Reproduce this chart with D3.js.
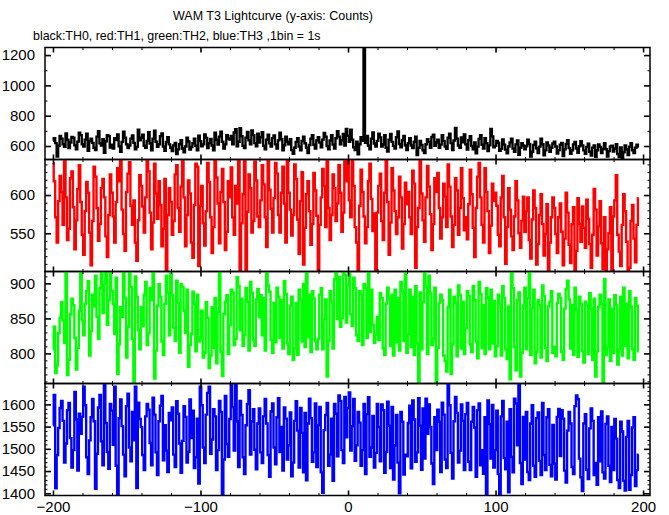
<!DOCTYPE html>
<html><head><meta charset="utf-8">
<script src="https://cdn.jsdelivr.net/npm/d3@7"></script>
<style>
body{margin:0;background:#fff}
svg{display:block}
text{font-family:"Liberation Sans",Arial,Helvetica,sans-serif;fill:#000}
</style>
</head><body>
<svg id="chart" width="669" height="515"></svg>
<script>
// ---------- texts ----------
const titleText = "WAM T3 Lightcurve (y-axis: Counts)";
const subtitleText = "black:TH0, red:TH1, green:TH2, blue:TH3 ,1bin = 1s";

// ---------- time binning (1 bin = 1 s, first bin at -200 s) ----------
const timeStart = -200;
const binSize = 1;

// ---------- series values (counts per 1 s bin) ----------
const th0Counts = [
634,651,619,531,602,667,648,612,595,683,641,587,623,660,655,604,578,629,688,672,
611,597,642,681,569,633,648,621,589,574,662,697,618,603,645,556,631,672,664,590,
608,583,651,639,677,598,561,627,694,655,612,586,603,648,669,621,579,594,707,638,
655,674,602,588,633,691,617,572,649,701,628,595,612,664,683,597,569,626,658,611,
589,566,604,621,547,578,612,639,584,559,597,655,630,576,593,618,649,602,571,668,
632,598,611,677,654,587,619,646,603,571,688,641,609,662,694,628,583,611,672,650,
643,667,612,689,711,598,628,718,664,601,587,655,693,637,612,703,672,619,598,681,
623,658,691,602,579,641,675,618,596,652,669,611,584,637,688,646,571,605,662,629,
612,645,573,548,589,627,651,596,571,634,662,618,589,553,607,649,671,608,584,637,
658,623,591,642,687,661,599,578,636,672,609,584,651,697,662,611,637,679,603,712,
668,627,708,641,592,574,629,545,612,658,634,1250,621,667,602,579,648,689,617,596,
634,681,656,597,612,672,589,563,641,679,627,601,584,658,696,613,592,638,667,605,
574,619,652,603,586,628,661,541,589,634,607,572,553,612,645,627,588,659,674,601,
623,642,588,609,671,634,597,582,655,681,619,574,636,719,648,603,589,657,624,676,
612,577,638,664,601,579,623,552,596,647,672,608,583,651,619,566,604,712,663,591,
601,634,622,568,581,643,609,576,552,597,624,648,583,562,611,637,542,589,618,603,
579,598,641,613,531,562,607,628,585,553,596,649,612,538,571,624,603,562,589,617,
628,597,551,573,608,621,533,579,614,638,586,549,572,611,627,584,556,598,631,604,
571,548,593,616,562,537,589,603,528,572,611,594,553,581,618,579,531,566,597,602,
563,584,612,547,527,591,512,558,603,579,541,596,618,572,553,589,608,594
];
const th1Counts = [
642,618,571,538,592,625,604,561,646,597,541,556,622,631,584,529,567,608,639,591,
548,522,579,617,603,551,508,566,637,624,583,540,562,609,621,597,546,519,574,627,
603,572,538,591,635,618,646,581,549,527,604,628,643,586,561,593,538,514,567,626,
612,585,551,597,646,631,577,529,564,641,602,569,618,587,533,556,621,500,574,609,
591,548,566,627,639,583,552,611,646,597,533,574,619,602,538,518,587,641,637,507,
586,612,563,534,579,642,617,571,524,558,646,623,589,537,604,634,591,528,552,618,
597,636,571,548,612,589,646,500,563,601,646,500,578,627,609,551,566,644,619,572,
558,593,639,614,571,532,646,607,582,551,596,642,628,574,551,603,637,589,538,646,
603,581,547,574,640,621,568,523,592,630,509,557,601,618,579,535,562,629,606,573,
500,561,597,634,612,558,646,583,541,574,627,609,566,589,639,603,552,577,644,618,
646,593,571,646,612,558,538,502,586,633,604,572,537,558,618,641,595,553,576,500,
577,612,628,566,541,603,645,591,522,564,635,606,579,549,571,624,597,530,562,616,
588,604,571,549,632,615,505,558,583,646,602,567,539,597,638,611,575,528,562,622,
604,629,583,543,571,615,598,558,640,611,572,532,561,622,606,548,583,635,596,554,
571,542,588,633,601,557,519,583,624,642,597,561,538,635,604,579,524,560,615,592,
603,586,548,533,597,625,571,510,558,609,581,546,528,572,618,593,550,531,566,598,
552,579,597,541,517,568,606,583,509,536,574,601,562,521,549,588,500,538,571,597,
583,549,524,571,589,552,508,543,603,577,535,511,562,584,500,527,596,562,539,585,
557,531,594,569,536,505,548,608,581,521,559,592,537,503,571,500,529,550,584,500,
572,593,626,548,526,507,561,601,579,539,500,505,566,587,543,512,561,596
];
const th2Counts = [
806,838,772,783,829,851,873,847,815,917,769,791,856,878,869,822,777,808,861,917,
847,826,871,889,903,797,832,884,867,911,852,821,893,917,858,899,917,841,876,917,
889,871,828,908,771,813,866,852,917,879,794,838,917,895,821,757,910,881,833,806,
866,839,884,902,812,829,893,876,917,764,804,868,899,881,817,798,871,911,887,826,
917,883,837,818,904,872,801,899,895,861,829,891,781,812,828,888,871,803,884,817,
822,861,794,801,873,851,779,797,866,808,879,786,859,917,802,768,856,874,883,799,
841,891,887,812,821,909,896,833,878,811,826,893,874,804,902,886,819,811,877,892,
852,883,826,879,804,917,897,888,819,801,872,816,894,881,822,876,807,903,885,814,
799,868,881,791,807,872,798,891,876,817,899,809,917,823,884,802,889,878,818,806,
821,884,893,806,849,877,767,818,889,874,807,906,917,849,909,838,851,917,912,844,
898,917,856,839,908,893,826,818,889,884,812,899,894,822,917,831,891,841,815,827,
852,819,886,879,807,798,871,894,878,811,884,797,891,816,879,804,902,889,818,914,
801,828,891,809,881,798,896,814,757,887,806,873,917,895,799,911,886,812,821,894,
757,808,872,884,876,797,789,774,866,891,771,813,881,872,796,897,883,807,874,799,
836,889,882,813,802,896,876,817,793,902,885,808,869,799,893,879,806,891,814,875,
796,811,884,871,797,896,879,806,792,867,763,917,893,809,776,876,887,767,801,868,
894,806,879,917,798,865,891,786,802,876,869,794,897,882,808,789,867,874,889,801,
809,796,872,885,879,802,791,864,892,904,877,807,869,798,894,862,795,881,871,803,
787,874,869,799,886,863,791,878,767,803,866,884,871,757,906,798,809,877,789,864,
801,883,869,784,806,881,797,894,811,871,793,889,866,806,791,879,868,803
];
const th3Counts = [
1553,1621,1411,1486,1547,1592,1608,1563,1469,1512,1587,1603,1524,1458,1497,1628,1566,1451,1579,1534,
1572,1640,1598,1481,1443,1519,1571,1612,1562,1410,1489,1593,1621,1517,1463,1647,1558,1493,1455,1601,
1586,1509,1640,1462,1395,1569,1611,1551,1487,1438,1596,1624,1503,1472,1583,1519,1640,1412,1604,1567,
1549,1486,1452,1573,1601,1588,1513,1463,1615,1577,1492,1441,1562,1597,1619,1474,1553,1496,1448,1581,
1564,1593,1487,1459,1607,1579,1512,1446,1518,1596,1572,1469,1493,1611,1524,1586,1457,1481,1568,1422,
1640,1598,1503,1468,1577,1626,1640,1489,1521,1589,1573,1452,1497,1608,1583,1395,1476,1619,1511,1482,
1567,1647,1594,1496,1647,1562,1459,1608,1576,1481,1443,1553,1601,1632,1487,1562,1589,1498,1454,1557,
1591,1492,1468,1573,1612,1557,1486,1437,1584,1602,1503,1465,1571,1614,1493,1549,1451,1593,1568,1476,
1508,1582,1438,1469,1563,1607,1541,1458,1592,1536,1447,1581,1429,1557,1613,1569,1471,1492,1602,1459,
1553,1594,1447,1401,1542,1576,1603,1462,1487,1568,1428,1601,1579,1483,1620,1608,1497,1468,1617,1526,
1592,1627,1496,1551,1612,1473,1508,1583,1559,1462,1497,1601,1443,1578,1616,1482,1503,1574,1458,1491,
1601,1549,1472,1600,1587,1446,1493,1606,1552,1457,1594,1431,1508,1576,1469,1400,1583,1561,1442,1487,
1483,1558,1597,1456,1609,1566,1471,1492,1614,1552,1453,1591,1478,1613,1534,1600,1549,1467,1421,1571,
1497,1588,1561,1448,1604,1577,1476,1457,1647,1598,1491,1433,1562,1617,1581,1469,1496,1600,1563,1452,
1578,1603,1471,1452,1561,1594,1548,1437,1587,1602,1463,1497,1444,1571,1395,1609,1556,1478,1599,1458,
1497,1586,1443,1395,1573,1608,1479,1454,1561,1402,1589,1482,1447,1613,1602,1508,1647,1468,1421,1572,
1476,1583,1448,1430,1557,1598,1462,1437,1569,1582,1473,1441,1603,1486,1452,1571,1589,1464,1438,1554,
1467,1431,1572,1590,1484,1587,1568,1451,1424,1541,1583,1557,1459,1443,1596,1620,1612,1478,1436,1405,
1557,1578,1453,1432,1546,1591,1563,1441,1468,1419,1571,1472,1584,1447,1433,1556,1573,1462,1425,1549,
1452,1567,1523,1430,1412,1561,1539,1428,1406,1527,1563,1408,1441,1548,1571,1416,1452,1487
];

// ---------- axis ranges & ticks ----------
const xDomain = [-205.4, 204.7];
const xMajorTicks = [-200, -100, 0, 100, 200];
const xMinorTicks = [-180,-160,-140,-120,-80,-60,-40,-20,20,40,60,80,120,140,160,180];

const th0Domain = [511, 1250];
const th0Major = [600, 800, 1000, 1200];
const th0Minor = [700, 900, 1100];

const th1Domain = [500, 646.5];
const th1Major = [550, 600];
const th1Minor = [510,520,530,540,560,570,580,590,610,620,630,640];

const th2Domain = [757, 917];
const th2Major = [800, 850, 900];
const th2Minor = [760,770,780,790,810,820,830,840,860,870,880,890,910];

const th3Domain = [1395, 1647];
const th3Major = [1400, 1450, 1500, 1550, 1600];
const th3Minor = [1410,1420,1430,1440,1460,1470,1480,1490,1510,1520,1530,1540,1560,1570,1580,1590,1610,1620,1630,1640];

const seriesColors = ["#000000", "#ff0000", "#00ff00", "#0000ff"];
const seriesWidths = [2.4, 2.4, 2.4, 2.4];

// ---------- layout ----------
const plotLeft = 45, plotRight = 650, plotTop = 47.5, panelH = 112;
const W = plotRight - plotLeft;

const svg = d3.select("#chart");
svg.append("rect").attr("width", 669).attr("height", 515).attr("fill", "#fff");

svg.append("text").attr("x", 273).attr("y", 19.5).attr("text-anchor", "middle")
  .style("font-size", "12.5px").text(titleText);
svg.append("text").attr("x", 33).attr("y", 39.5)
  .style("font-size", "12.4px").text(subtitleText);

const x = d3.scaleLinear().domain(xDomain).range([0, W]);

const panels = [
  {values: th0Counts, domain: th0Domain, major: th0Major, minor: th0Minor},
  {values: th1Counts, domain: th1Domain, major: th1Major, minor: th1Minor},
  {values: th2Counts, domain: th2Domain, major: th2Major, minor: th2Minor},
  {values: th3Counts, domain: th3Domain, major: th3Major, minor: th3Minor}
];

const majorLen = 5, minorLen = 2.5;
const labelFont = '"Liberation Sans",Arial,sans-serif';

function stripDomain(g){ g.select(".domain").remove(); }

panels.forEach((p, i) => {
  const top = plotTop + i * panelH;
  const g = svg.append("g").attr("transform", `translate(${plotLeft},${top})`);
  const y = d3.scaleLinear().domain(p.domain).range([panelH, 0]);

  const cid = "clip" + i;
  g.append("clipPath").attr("id", cid).append("rect").attr("width", W).attr("height", panelH);

  const pts = p.values.map((v, k) => ({t: timeStart + k * binSize, v}));
  const line = d3.line().x(d => x(d.t)).y(d => y(d.v)).curve(d3.curveStep);
  g.append("path").datum(pts).attr("clip-path", `url(#${cid})`)
    .attr("fill", "none").attr("stroke", seriesColors[i]).attr("stroke-width", seriesWidths[i])
    .attr("d", line);

  // ticks (inward) on all four sides
  const tickStyle = sel => sel.selectAll("line").attr("stroke", "#000");
  g.append("g").attr("transform", `translate(0,${panelH})`)
    .call(d3.axisBottom(x).tickValues(xMinorTicks).tickSize(-minorLen).tickFormat(""))
    .call(stripDomain).call(tickStyle);
  g.append("g").attr("transform", `translate(0,${panelH})`)
    .call(d3.axisBottom(x).tickValues(xMajorTicks).tickSize(-majorLen).tickFormat(""))
    .call(stripDomain).call(tickStyle).selectAll("line").attr("stroke-width", 1.6);
  g.append("g")
    .call(d3.axisTop(x).tickValues(xMinorTicks).tickSize(-minorLen).tickFormat(""))
    .call(stripDomain).call(tickStyle);
  g.append("g")
    .call(d3.axisTop(x).tickValues(xMajorTicks).tickSize(-majorLen).tickFormat(""))
    .call(stripDomain).call(tickStyle).selectAll("line").attr("stroke-width", 1.6);

  g.append("g").call(d3.axisLeft(y).tickValues(p.minor).tickSize(-minorLen).tickFormat(""))
    .call(stripDomain).call(tickStyle);
  g.append("g").attr("transform", `translate(${W},0)`)
    .call(d3.axisRight(y).tickValues(p.minor).tickSize(-minorLen).tickFormat(""))
    .call(stripDomain).call(tickStyle);
  g.append("g").call(d3.axisLeft(y).tickValues(p.major).tickSize(-majorLen * 1.2).tickFormat(""))
    .call(stripDomain).call(tickStyle).selectAll("line").attr("stroke-width", 1.6);
  g.append("g").attr("transform", `translate(${W},0)`)
    .call(d3.axisRight(y).tickValues(p.major).tickSize(-majorLen * 1.2).tickFormat(""))
    .call(stripDomain).call(tickStyle).selectAll("line").attr("stroke-width", 1.6);

  // y labels
  const yl = g.append("g")
    .call(d3.axisLeft(y).tickValues(p.major).tickSize(0).tickPadding(10).tickFormat(d3.format("d")))
    .call(stripDomain);
  yl.selectAll("text").style("font-size", "15px").style("font-family", labelFont).attr("fill", "#000");

  // frame
  g.append("rect").attr("width", W).attr("height", panelH)
    .attr("fill", "none").attr("stroke", "#000").attr("stroke-width", 1.5);

  if (i === panels.length - 1) {
    const xl = g.append("g").attr("transform", `translate(0,${panelH})`)
      .call(d3.axisBottom(x).tickValues(xMajorTicks).tickSize(0).tickPadding(6).tickFormat(d3.format("d")))
      .call(stripDomain);
    xl.selectAll("text").style("font-size", "15px").style("font-family", labelFont).attr("fill", "#000");
  }
});
</script>
</body></html>
